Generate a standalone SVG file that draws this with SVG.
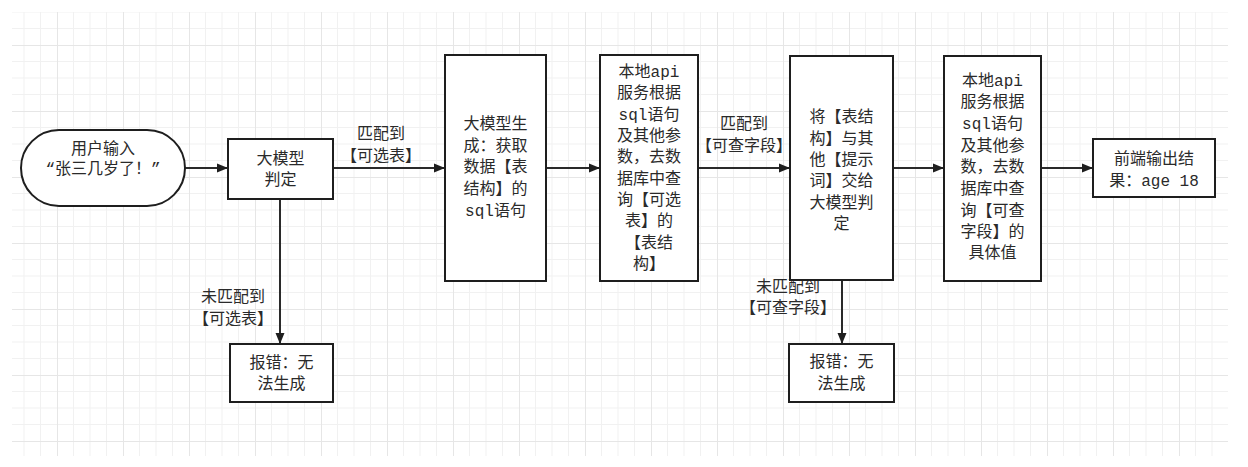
<svg xmlns="http://www.w3.org/2000/svg" width="1248" height="467" viewBox="0 0 1248 467">
<style>
.n{fill:#fff;stroke:#1e1e1e;stroke-width:2}
.t{font-family:"Liberation Mono","Noto Sans CJK SC",monospace;font-size:16px;fill:#2a2a2a;text-anchor:middle;dominant-baseline:central}
.c{fill:none;stroke:#2a2a2a;stroke-width:2;marker-end:url(#ah)}
</style>
<defs>
<marker id="ah" markerWidth="12" markerHeight="10" refX="11" refY="5" orient="auto" markerUnits="userSpaceOnUse">
<path d="M0,0.5 L11,5 L0,9.5 Z" fill="#1e1e1e"/>
</marker>
<pattern id="grid" x="57" y="45" width="66" height="66" patternUnits="userSpaceOnUse">
<path d="M16.5,0V66M33,0V66M49.5,0V66M0,16.5H66M0,33H66M0,49.5H66" stroke="#f1f1f1" stroke-width="1" fill="none"/>
<path d="M0.5,0V66M0,0.5H66" stroke="#e6e6e6" stroke-width="1" fill="none"/>
</pattern>
</defs>
<rect width="1248" height="467" fill="#fff"/>
<rect x="12" y="12" width="1216" height="444" fill="url(#grid)"/>

<g id="connectors">
<path class="c" d="M185,168 H228"/>
<path class="c" d="M333,168 H445"/>
<path class="c" d="M546,168 H600"/>
<path class="c" d="M698,168 H790"/>
<path class="c" d="M893,168 H944"/>
<path class="c" d="M1041,168 H1093"/>
<path class="c" d="M280,199 V344"/>
<path class="c" d="M842,280 V344"/>
<text class="t" x="381" y="135">匹配到</text>
<text class="t" x="381" y="157">【可选表】</text>
<text class="t" x="744" y="125">匹配到</text>
<text class="t" x="744" y="147">【可查字段】</text>
<text class="t" x="233" y="298">未匹配到</text>
<text class="t" x="233" y="320">【可选表】</text>
<text class="t" x="788" y="288">未匹配到</text>
<text class="t" x="788" y="309">【可查字段】</text>
</g>

<g id="start">
<rect class="n" x="21" y="130" width="164" height="76" rx="38" ry="38"/>
<text class="t" x="103" y="150">用户输入</text>
<text class="t" x="103" y="170">“张三几岁了！”</text>
</g>

<g id="judge">
<rect class="n" x="228" y="139" width="105" height="60"/>
<text class="t" x="280.5" y="160">大模型</text>
<text class="t" x="280.5" y="181">判定</text>
</g>

<g id="gen-sql">
<rect class="n" x="445" y="55" width="101" height="226"/>
<text class="t" x="495.5" y="125">大模型生</text>
<text class="t" x="495.5" y="147">成：获取</text>
<text class="t" x="495.5" y="168">数据【表</text>
<text class="t" x="495.5" y="190">结构】的</text>
<text class="t" x="495.5" y="212">sql语句</text>
</g>

<g id="query-schema">
<rect class="n" x="600" y="55" width="98" height="226"/>
<text class="t" x="649" y="73">本地api</text>
<text class="t" x="649" y="94">服务根据</text>
<text class="t" x="649" y="116">sql语句</text>
<text class="t" x="649" y="137">及其他参</text>
<text class="t" x="649" y="158">数，去数</text>
<text class="t" x="649" y="180">据库中查</text>
<text class="t" x="649" y="201">询【可选</text>
<text class="t" x="649" y="222">表】的</text>
<text class="t" x="649" y="244">【表结</text>
<text class="t" x="649" y="265">构】</text>
</g>

<g id="judge2">
<rect class="n" x="790" y="56" width="103" height="224"/>
<text class="t" x="841.5" y="118">将【表结</text>
<text class="t" x="841.5" y="140">构】与其</text>
<text class="t" x="841.5" y="161">他【提示</text>
<text class="t" x="841.5" y="182">词】交给</text>
<text class="t" x="841.5" y="204">大模型判</text>
<text class="t" x="841.5" y="225">定</text>
</g>

<g id="query-value">
<rect class="n" x="944" y="56" width="97" height="225"/>
<text class="t" x="992.5" y="82">本地api</text>
<text class="t" x="992.5" y="103">服务根据</text>
<text class="t" x="992.5" y="125">sql语句</text>
<text class="t" x="992.5" y="147">及其他参</text>
<text class="t" x="992.5" y="168">数，去数</text>
<text class="t" x="992.5" y="190">据库中查</text>
<text class="t" x="992.5" y="212">询【可查</text>
<text class="t" x="992.5" y="233">字段】的</text>
<text class="t" x="992.5" y="254">具体值</text>
</g>

<g id="output">
<rect class="n" x="1093" y="139" width="122" height="58"/>
<text class="t" x="1154" y="160">前端输出结</text>
<text class="t" x="1154" y="182">果：age 18</text>
</g>

<g id="error1">
<rect class="n" x="230" y="344" width="103" height="58"/>
<text class="t" x="281.5" y="364">报错：无</text>
<text class="t" x="281.5" y="385">法生成</text>
</g>

<g id="error2">
<rect class="n" x="789" y="344" width="105" height="58"/>
<text class="t" x="841.5" y="363">报错：无</text>
<text class="t" x="841.5" y="385">法生成</text>
</g>
</svg>
